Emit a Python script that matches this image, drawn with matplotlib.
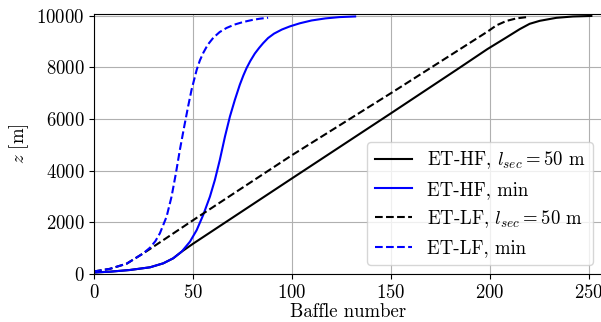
import numpy as np
import matplotlib
matplotlib.use("Agg")
import matplotlib.pyplot as plt

plt.rcParams['font.family'] = 'serif'
plt.rcParams['font.serif'] = ['cmr10', 'DejaVu Serif']
plt.rcParams['mathtext.fontset'] = 'cm'
plt.rcParams['axes.formatter.use_mathtext'] = True
plt.rcParams['font.size'] = 13.5

# ET-HF, l_sec = 50 m
hf_sec_x = [0, 8, 18, 28.3, 35, 40, 44.3, 50, 100, 150, 183.2, 198.8, 208.4, 215.2, 220.2,
            225.3, 233.7, 242.1, 251.4]
hf_sec_z = [60, 90, 155, 260, 414, 607, 866, 1170, 3700, 6220, 7907, 8709, 9160, 9484, 9690,
            9806, 9922, 9974, 9995]

# ET-HF, min
hf_min_x = [0, 8, 18, 28.3, 35, 40, 44.3, 48.5, 51.9, 55.2, 58.6, 61.1, 63.6, 66.2, 68.7,
            71.2, 73.7, 75.5, 77.1, 79, 81.3, 83.5, 85.5, 88, 91, 95, 99, 104, 110, 117,
            124, 132]
hf_min_z = [60, 90, 155, 260, 414, 607, 866, 1253, 1700, 2287, 2997, 3643, 4419, 5323, 6098,
            6744, 7330, 7690, 7972, 8250, 8540, 8760, 8941, 9140, 9310, 9470, 9590, 9710, 9820, 9900,
            9950, 9975]

# ET-LF, l_sec = 50 m
lf_sec_x = [0, 8, 16.5, 24.9, 28.3, 50, 100, 150, 175, 199, 203.4, 208.4, 213.5, 218.8]
lf_sec_z = [100, 200, 400, 800, 970, 2080, 4600, 7000, 8220, 9393, 9630, 9800, 9900, 9950]

# ET-LF, min
lf_min_x = [0, 8, 16.5, 24.9, 28.3, 31, 33.3, 36.7, 39.2, 41.4, 43.4, 45.6, 47.6, 49.3,
            51.9, 53.5, 55.2, 57.5, 60.3, 63.5, 67, 71, 75.4, 80, 84, 88]
lf_min_z = [100, 200, 400, 800, 1020, 1270, 1576, 2222, 2997, 3900, 4806, 5710, 6500, 7132,
            7907, 8270, 8560, 8880, 9150, 9370, 9530, 9660, 9760, 9840, 9890, 9925]

fig = plt.figure(figsize=(6.01, 3.22), dpi=100)
ax = fig.add_axes([0.1564, 0.149, 0.846, 0.8075])

ax.plot(hf_sec_x, hf_sec_z, color='black', lw=1.5, label=r'ET-HF, $l_{sec} = 50$ m')
ax.plot(hf_min_x, hf_min_z, color='blue', lw=1.5, label='ET-HF, min')
ax.plot(lf_sec_x, lf_sec_z, color='black', lw=1.5, ls='--', label=r'ET-LF, $l_{sec} = 50$ m')
ax.plot(lf_min_x, lf_min_z, color='blue', lw=1.5, ls='--', label='ET-LF, min')

ax.set_xlim(0, 257)
ax.set_ylim(0, 10070)
ax.set_xticks([0, 50, 100, 150, 200, 250])
ax.set_yticks([0, 2000, 4000, 6000, 8000, 10000])
ax.grid(True, color='#b0b0b0', lw=0.8)
ax.set_xlabel('Baffle number', labelpad=1)
ax.set_ylabel(r'$z$ [m]')
ax.legend(loc='lower right', fontsize=13.5, handlelength=2.0)

fig.savefig('out.png', dpi=100)
